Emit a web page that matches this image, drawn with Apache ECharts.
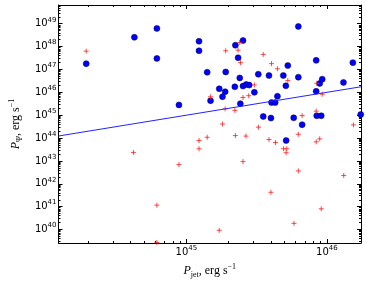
<!DOCTYPE html>
<html><head><meta charset="utf-8">
<script src="https://cdn.jsdelivr.net/npm/echarts@6/dist/echarts.min.js"></script>
<style>html,body{margin:0;padding:0;background:#fff}#c{width:366px;height:284px}</style>
</head><body><div id="c"></div>
<script>
// values are log10 of power in erg/s
const blueLogPjet = [44.287,44.630,44.790,44.790,45.090,45.090,45.349,45.403,45.368,45.148,45.280,45.380,45.234,45.276,45.345,45.403,45.426,45.447,45.257,45.172,45.384,44.947,45.797,45.722,45.924,46.185,45.512,45.588,45.690,45.797,45.708,45.949,45.967,46.118,45.484,45.924,45.648,45.606,45.632,45.547,45.602,45.764,45.928,45.960,46.241,45.824,45.710];
const blueLogPpsi = [47.255,48.407,48.797,47.485,48.234,47.818,48.061,48.264,47.515,46.879,46.892,46.632,46.156,46.026,46.242,46.273,46.346,46.316,45.810,45.636,45.506,45.450,48.883,47.169,47.398,47.299,46.792,46.736,46.736,46.662,46.286,46.390,46.576,46.433,46.000,46.043,45.827,45.550,45.550,44.944,44.874,44.887,44.974,44.974,45.030,44.584,43.892];
const redLogPjet = [44.287,44.623,45.280,45.380,45.368,45.385,45.172,45.403,45.444,45.276,45.345,45.257,45.547,45.606,45.648,45.722,45.928,45.484,45.967,45.924,45.824,46.189,45.513,45.424,45.588,45.634,45.797,45.924,45.949,45.692,45.715,45.710,45.403,45.797,46.120,45.602,45.960,45.766,45.148,45.090,45.090,45.349,44.947,44.790,45.234,44.790];
const redLogPpsi = [47.801,43.372,47.818,48.177,47.844,47.299,45.805,45.775,45.853,45.277,45.212,44.615,47.658,47.255,47.030,46.519,46.394,46.325,45.918,45.177,44.983,44.576,44.476,44.087,43.935,43.805,44.165,43.835,43.965,43.532,43.532,43.359,42.970,42.563,42.364,41.628,40.905,40.268,44.035,43.892,43.532,44.108,42.840,41.065,39.965,39.433];
const lineLogPjet = [44.09, 46.243];
const lineLogPpsi = [44.09, 46.243];
const xTickExps = [45, 46];
const yTickExps = [40,41,42,43,44,45,46,47,48,49];
const xRange = [44.09, 46.243];
const yRange = [39.41, 49.82];

function minorTicks(lo, hi){
  const out=[];
  for(let d=Math.floor(lo)-1; d<=Math.ceil(hi); d++){
    for(let k=2;k<=9;k++){ const v=d+Math.log10(k); if(v>lo && v<hi) out.push(v); }
  }
  return out;
}
const supLabel = v => '{b|10}{s|' + Math.round(v) + '}';
const tickRich = {
  b:{fontFamily:'DejaVu Sans', fontSize:10, lineHeight:15, color:'#000'},
  s:{fontFamily:'DejaVu Sans', fontSize:7, verticalAlign:'top', color:'#000'}
};
const nameRich = {
  i:{fontFamily:'Liberation Serif', fontStyle:'italic', fontSize:12, lineHeight:16, color:'#000'},
  sub:{fontFamily:'Liberation Serif', fontSize:8, verticalAlign:'bottom', color:'#000'},
  r:{fontFamily:'Liberation Serif', fontSize:12, lineHeight:16, color:'#000'},
  sup:{fontFamily:'Liberation Serif', fontSize:8, verticalAlign:'top', color:'#000'}
};
function mkAxis(range, ticks, pos, major, labels, line, extra){
  const ax = {
    type:'value', min:range[0], max:range[1], position:pos,
    axisLine:{show:line, onZero:false, lineStyle:{color:'#000', width:1}},
    splitLine:{show:false},
    axisTick:{show:true, inside:true, length: major?4:2,
      customValues: major ? ticks : minorTicks(range[0], range[1]),
      lineStyle:{color:'#000', width:1}},
    axisLabel:{show:labels, customValues: ticks, formatter: supLabel, rich: tickRich, margin: 2}
  };
  return Object.assign(ax, extra||{});
}
const chart = echarts.init(document.getElementById('c'), null, {renderer:'canvas'});
chart.setOption({
  animation:false,
  backgroundColor:'#fff',
  grid:{left:51, top:5, width:310, height:241, containLabel:false},
  xAxis:[
    mkAxis(xRange, xTickExps, 'bottom', true, true, true, {
      name:'{i|P}{sub|jet}{r|, erg s}{sup|−1}', nameLocation:'middle', nameGap:20,
      nameTextStyle:{rich:nameRich}}),
    mkAxis(xRange, xTickExps, 'top', true, false, true),
    mkAxis(xRange, xTickExps, 'bottom', false, false, false),
    mkAxis(xRange, xTickExps, 'top', false, false, false)
  ],
  yAxis:[
    mkAxis(yRange, yTickExps, 'left', true, true, true, {
      name:'{i|P}{sub|Ψ}{r|, erg s}{sup|−1}', nameLocation:'middle', nameGap:34, nameRotate:90,
      nameTextStyle:{rich:nameRich}}),
    mkAxis(yRange, yTickExps, 'right', true, false, true),
    mkAxis(yRange, yTickExps, 'left', false, false, false),
    mkAxis(yRange, yTickExps, 'right', false, false, false)
  ],
  series:[
    {type:'scatter', xAxisIndex:0, yAxisIndex:0, symbol:'circle', symbolSize:6,
     itemStyle:{color:'#0000ff', borderColor:'#000050', borderWidth:0.5, opacity:1},
     data: blueLogPjet.map((x,i)=>[x, blueLogPpsi[i]]), z:2},
    {type:'scatter', xAxisIndex:0, yAxisIndex:0, symbol:'path://M5,0L5,10M0,5L10,5', symbolSize:5,
     itemStyle:{color:'rgba(0,0,0,0)', borderColor:'#ff1a1a', borderWidth:0.8, opacity:1},
     data: redLogPjet.map((x,i)=>[x, redLogPpsi[i]]), z:3},
    {type:'line', xAxisIndex:0, yAxisIndex:0, symbol:'none', silent:true,
     lineStyle:{color:'#2222ff', width:1},
     data: lineLogPjet.map((x,i)=>[x, lineLogPpsi[i]]), z:4}
  ]
});
</script>
</body></html>
